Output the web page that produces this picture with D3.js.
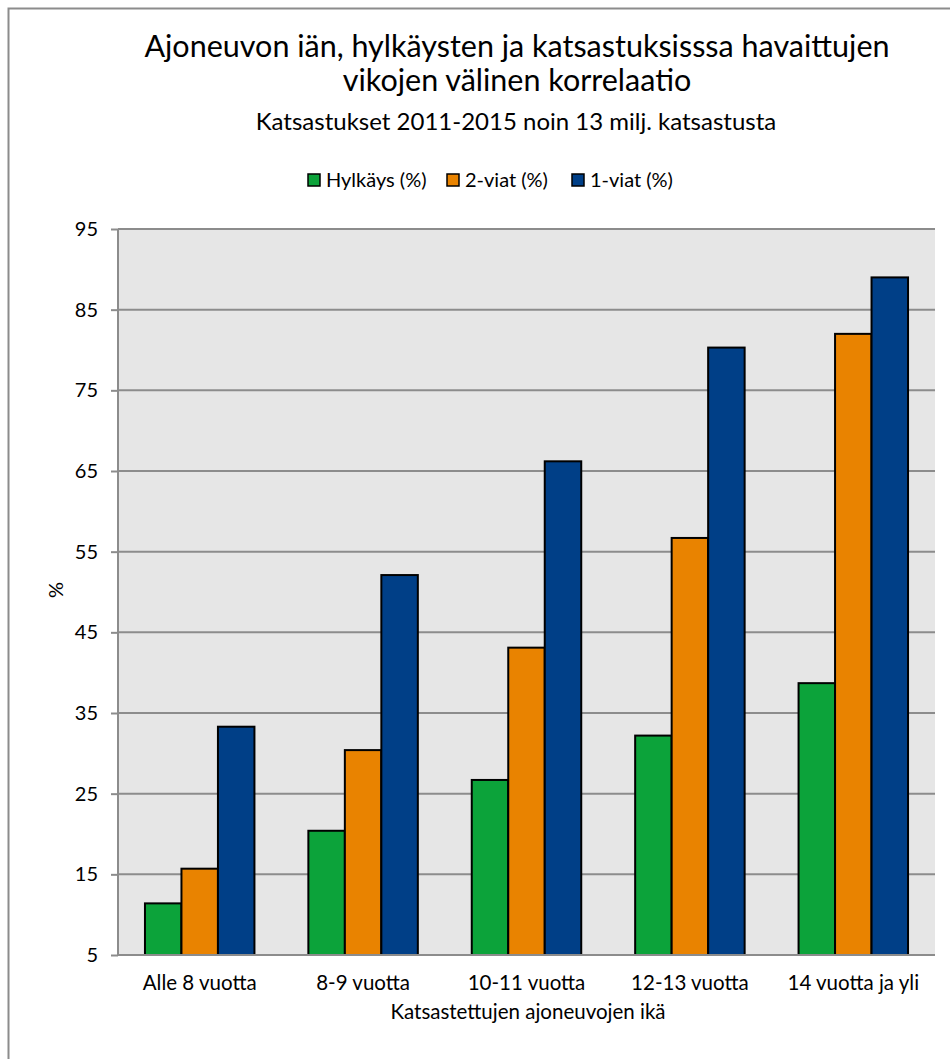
<!DOCTYPE html>
<html>
<head>
<meta charset="utf-8">
<script src="https://cdn.jsdelivr.net/npm/d3@7"></script>
<style>
  body { margin: 0; background: #fff; }
  text { font-family: Lato, "DejaVu Sans Condensed", sans-serif; fill: #000; }
</style>
</head>
<body>
<div class="canvas"></div>
<script>
const categories = ['Alle 8 vuotta', '8-9 vuotta', '10-11 vuotta', '12-13 vuotta', '14 vuotta ja yli']
const seriesNames = ['Hylkäys (%)', '2-viat (%)', '1-viat (%)']
const hylkays = [11.4, 20.4, 26.7, 32.2, 38.7]
const viat2 = [15.7, 30.4, 43.1, 56.7, 82.0]
const viat1 = [33.3, 52.1, 66.2, 80.3, 89.0]
const yTicks = [5, 15, 25, 35, 45, 55, 65, 75, 85, 95]
const colors = ['#0ca33a', '#e98300', '#003f87']

const series = [hylkays, viat2, viat1]

const dims = {width: 950, height: 1059}
const plot = {left: 118, right: 935, top: 229, bottom: 955}

const svg = d3.select('.canvas').append('svg')
    .attr('width', dims.width)
    .attr('height', dims.height)

// outer frame (only top and left show inside the window)
svg.append('rect')
    .attr('x', 8.5).attr('y', 8.5)
    .attr('width', 1000).attr('height', 1100)
    .attr('fill', 'none')
    .attr('stroke', '#8c8c8c')
    .attr('stroke-width', 2)

// titles
svg.append('text').attr('x', 517).attr('y', 57)
    .attr('text-anchor', 'middle').style('font-size', '30.5px')
    .text('Ajoneuvon iän, hylkäysten ja katsastuksisssa havaittujen')
svg.append('text').attr('x', 517).attr('y', 91)
    .attr('text-anchor', 'middle').style('font-size', '30.5px')
    .text('vikojen välinen korrelaatio')
svg.append('text').attr('x', 516).attr('y', 130)
    .attr('text-anchor', 'middle').style('font-size', '24px')
    .text('Katsastukset 2011-2015 noin 13 milj. katsastusta')

// scales
const x0 = d3.scaleBand().domain(categories).range([plot.left, plot.right]).paddingInner(0.33).paddingOuter(0.165)
const x1 = d3.scaleBand().domain(d3.range(series.length)).range([0, x0.bandwidth()])
const y = d3.scaleLinear().domain([5, 95]).range([plot.bottom, plot.top])

const graph = svg.append('g')

graph.append('rect')
    .attr('x', plot.left).attr('y', plot.top)
    .attr('width', plot.right - plot.left).attr('height', plot.bottom - plot.top)
    .attr('fill', '#e6e6e6')

// y axis with gridlines
const yAxis = graph.append('g')
    .attr('transform', `translate(${plot.left},0)`)
    .call(d3.axisLeft(y).tickValues(yTicks).tickSize(7).tickPadding(13))
yAxis.select('.domain').remove()
yAxis.selectAll('line').attr('stroke', '#8c8c8c').attr('stroke-width', 2)
yAxis.selectAll('text').style('font-size', '20px').style('font-family', 'Lato, sans-serif')

graph.append('g').selectAll('line').data(yTicks).join('line')
    .attr('x1', plot.left).attr('x2', plot.right)
    .attr('y1', d => y(d)).attr('y2', d => y(d))
    .attr('stroke', '#8c8c8c').attr('stroke-width', 2)

graph.append('line')
    .attr('x1', plot.left).attr('x2', plot.left)
    .attr('y1', plot.top).attr('y2', plot.bottom)
    .attr('stroke', '#8c8c8c').attr('stroke-width', 2)

// bars
const groups = graph.append('g').selectAll('g').data(categories).join('g')
    .attr('transform', d => `translate(${x0(d)},0)`)

groups.selectAll('rect')
    .data((d, i) => series.map((s, k) => ({k: k, v: s[i]})))
    .join('rect')
    .attr('x', d => x1(d.k))
    .attr('width', x1.bandwidth())
    .attr('y', d => y(d.v))
    .attr('height', d => y(5) - y(d.v))
    .attr('fill', d => colors[d.k])
    .attr('stroke', '#000')
    .attr('stroke-width', 2)

// x axis
graph.append('line')
    .attr('x1', plot.left).attr('x2', plot.right)
    .attr('y1', plot.bottom).attr('y2', plot.bottom)
    .attr('stroke', '#8c8c8c').attr('stroke-width', 2)

graph.append('g').selectAll('text').data(categories).join('text')
    .attr('x', d => x0(d) + x0.bandwidth() / 2)
    .attr('y', 990)
    .attr('text-anchor', 'middle')
    .style('font-size', '20.5px')
    .text(d => d)

svg.append('text').attr('x', 528).attr('y', 1019)
    .attr('text-anchor', 'middle').style('font-size', '20.5px')
    .text('Katsastettujen ajoneuvojen ikä')

svg.append('text')
    .attr('transform', 'translate(63,590) rotate(-90)')
    .attr('text-anchor', 'middle').style('font-size', '20px')
    .text('%')

// legend
const legendX = [308, 447, 572]
const legend = svg.append('g').selectAll('g').data(seriesNames).join('g')
    .attr('transform', (d, i) => `translate(${legendX[i]},174)`)
legend.append('rect')
    .attr('width', 12).attr('height', 12)
    .attr('fill', (d, i) => colors[i])
    .attr('stroke', '#000').attr('stroke-width', 1.5)
legend.append('text')
    .attr('x', 18).attr('y', 13)
    .style('font-size', '20px')
    .text(d => d)
</script>
</body>
</html>
